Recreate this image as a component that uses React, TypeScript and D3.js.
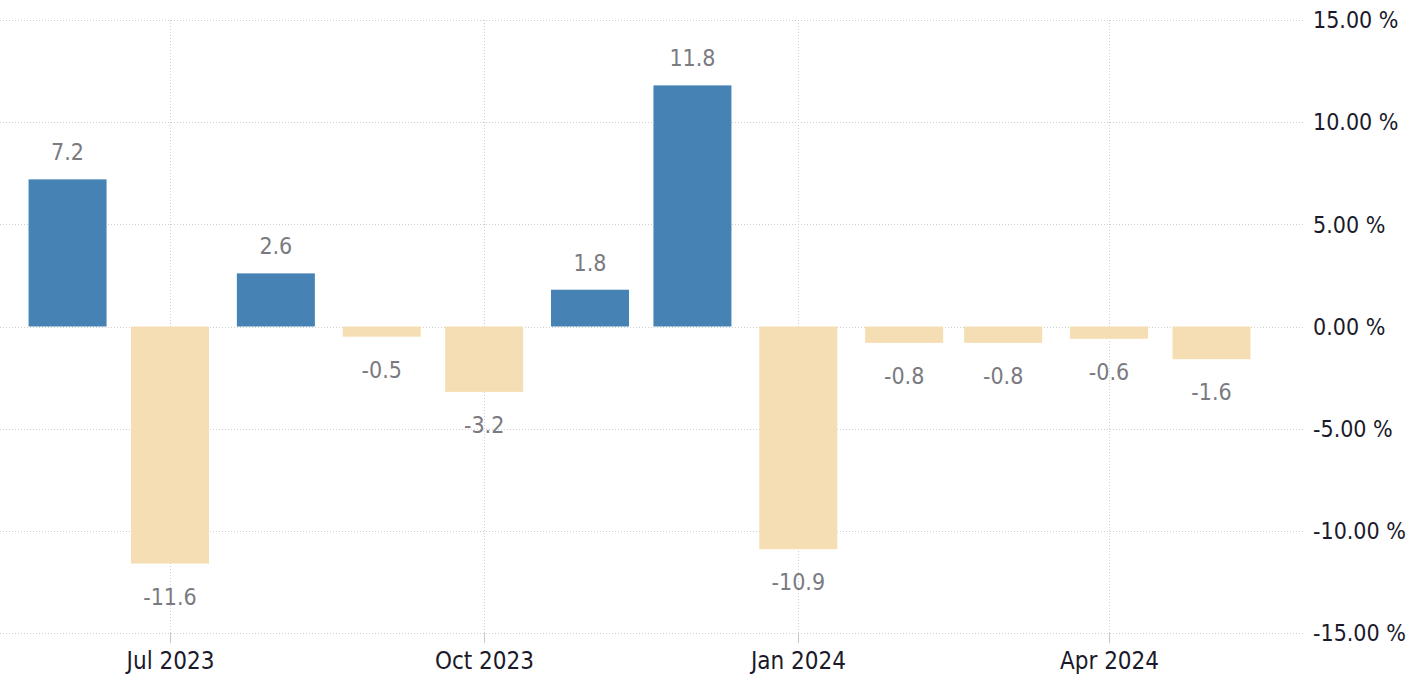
import React from "react";
import * as d3 from "d3";

const months = ["2023-06-01","2023-07-01","2023-08-01","2023-09-01","2023-10-01","2023-11-01","2023-12-01","2024-01-01","2024-02-01","2024-03-01","2024-04-01","2024-05-01"];
const values = [7.2, -11.6, 2.6, -0.5, -3.2, 1.8, 11.8, -10.9, -0.8, -0.8, -0.6, -1.6];
const yTicks = [15, 10, 5, 0, -5, -10, -15];
const xTicks = ["2023-07-01", "2023-10-01", "2024-01-01", "2024-04-01"];

const W = 1427, H = 684;
const FONT = "'DejaVu Sans Condensed', 'DejaVu Sans', Tahoma, sans-serif";

export default function App() {
  const parse = d3.utcParse("%Y-%m-%d");
  const x = d3.scaleUtc().domain([parse("2023-07-01")!, parse("2024-01-01")!]).range([170, 798.3]);
  const y = d3.scaleLinear().domain([-15, 15]).range([633, 20]);
  const fmtX = d3.utcFormat("%b %Y");
  const fmtY = (t: number) => d3.format(".2f")(t).replace("\u2212", "-") + " %";
  const barW = 78;
  const gridRight = 1305;
  return (
    <svg width={W} height={H} style={{ position: "absolute", left: 0, top: 0, background: "#fff" }} fontFamily={FONT}>
      {yTicks.map((t) => (
        <g key={t}>
          <line x1={0} x2={gridRight} y1={Math.round(y(t)) + 0.5} y2={Math.round(y(t)) + 0.5} stroke="#cfcfcf" strokeDasharray="1,2" />
          <text x={1313} y={y(t)} dy="0.36em" fontSize={23} fill="#1a1a2a">{fmtY(t)}</text>
        </g>
      ))}
      {xTicks.map((d) => {
        const xv = Math.round(x(parse(d)!)) + 0.5;
        return (
          <g key={d}>
            <line x1={xv} x2={xv} y1={20} y2={633} stroke="#cfcfcf" strokeDasharray="1,2" />
            <line x1={xv} x2={xv} y1={633} y2={643} stroke="#c8c8c8" />
            <text x={xv} y={669} textAnchor="middle" fontSize={24} fill="#1a1a2a">{fmtX(parse(d)!)}</text>
          </g>
        );
      })}
      {values.map((v, i) => {
        const cx = x(parse(months[i])!);
        const y0 = y(0), y1 = y(v);
        const top = Math.min(y0, y1), h = Math.abs(y1 - y0);
        return (
          <g key={months[i]}>
            <rect x={cx - barW / 2} y={top} width={barW} height={h} fill={v >= 0 ? "#4682b4" : "#f5deb3"} />
            <text x={cx} y={v >= 0 ? y1 - 19 : y1 + 41} textAnchor="middle" fontSize={23} fill="#7a7a80">{v.toFixed(1)}</text>
          </g>
        );
      })}
    </svg>
  );
}
